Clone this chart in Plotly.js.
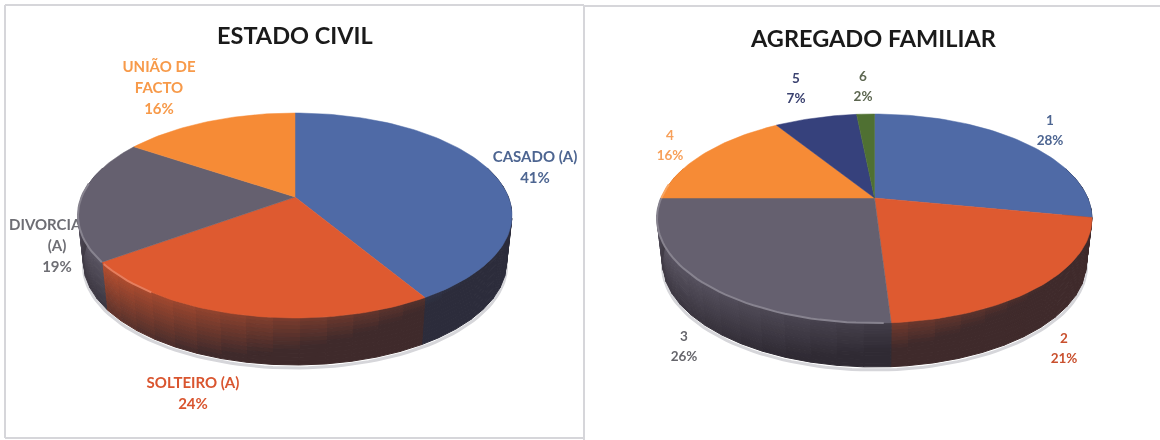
<!DOCTYPE html>
<html>
<head>
<meta charset="utf-8">
<script src="https://cdn.plot.ly/plotly-3.0.1.min.js"></script>
<style>html,body{margin:0;padding:0;background:#fff}#chart{width:1160px;height:440px;filter:blur(0.45px)}</style>
</head>
<body>
<div id="chart"></div>
<script>
// ---- data ----
const civilCategories = ['CASADO (A)', 'SOLTEIRO (A)', 'DIVORCIADO|(A)', 'UNIÃO DE|FACTO'];
const civilValues = [41.4, 23.6, 19.4, 15.6];
const civilColors = ['#4f6aa6', '#de5a30', '#65606f', '#f68b36'];
const civilTextColors = ['#4d6591', '#d9552f', '#6e6e74', '#f79a4a'];

const familyCategories = ['1', '2', '3', '4', '5', '6'];
const familyValues = [28, 21, 26, 16, 7.4, 1.6];
const familyColors = ['#4f6aa6', '#de5a30', '#65606f', '#f68b36', '#36417c', '#4f7032'];
const familyTextColors = ['#4d6591', '#c9502e', '#66666c', '#f7a05a', '#3b4270', '#5c6650'];

// ---- layout of the two panels (page pixels, used as axis units) ----
const civilPie  = {cx: 295, cy: 197, rx: 217, up: 84, down: 121, depth: 47, labelSize: 15, lineGap: 21, rimStart: 215,
  title: 'ESTADO CIVIL', titleX: 295, titleY: 35,
  anchors: [[535,158],[193,384],[57,226],[159,68]]};
const familyPie = {cx: 874.5, cy: 198, rx: 217.5, up: 84, down: 125, depth: 44, labelSize: 13.5, lineGap: 20, rimStart: 178,
  title: 'AGREGADO FAMILIAR', titleX: 873, titleY: 38,
  anchors: [[1050,122],[1064,340],[684,338],[670,137],[796,80],[863,78]]};

const DARK = [38, 34, 42];
const hex = h => [1,3,5].map(i => parseInt(h.substr(i,2),16));
const mix = (a,b,t) => a.map((v,i) => Math.round(v+(b[i]-v)*t));
const rgb = c => 'rgb('+c.join(',')+')';

function projector(p){
  const q = p.down/p.up, k = (q-1)/(q+1), A = p.up*(1+k), B = p.rx*Math.sqrt(1-k*k);
  return deg => {
    const a = deg*Math.PI/180, u = Math.sin(a), v = -Math.cos(a), d = 1-k*v;
    return {x: p.cx + B*u/d, y: p.cy + A*v/d, u, v};
  };
}

function wall(pt, p, t){            // point moved t (0..1) down the side wall
  const s = 1 - 0.025*t;
  return [p.cx + (pt.x-p.cx)*s, pt.y + p.depth*t];
}

function drawPie(p, values, colors, textColors, categories, traces){
  const at = projector(p);
  const total = values.reduce((a,b)=>a+b,0);
  // labels first: the pie covers whatever runs under it
  const lx=[], ly=[], lt=[], lc=[];
  categories.forEach((c,i) => {
    const lines = c.split('|').concat(Math.round(values[i])+'%');
    lines.forEach((line,j) => {
      lx.push(p.anchors[i][0]); ly.push(p.anchors[i][1]+j*p.lineGap); lt.push('<b>'+line+'</b>'); lc.push(textColors[i]);
    });
  });
  traces.push({type:'scatter', mode:'text', x:lx, y:ly, text:lt, textposition:'middle center',
    textfont:{family:'Lato, "Open Sans", sans-serif', size:p.labelSize, color:lc}, cliponaxis:false, hoverinfo:'skip'});

  // faint shadow under the disc
  const sx=[], sy=[];
  for(let d=85; d<=275; d+=2){ const w=wall(at(d),p,1); sx.push(w[0]); sy.push(w[1]+3); }
  traces.push({type:'scatter', mode:'lines', x:sx, y:sy, line:{color:'#d6d6da', width:3}, hoverinfo:'skip'});

  // side wall
  const BANDS = 12, STEP = 6;
  let start = 0;
  const spans = values.map(v => { const s=[start, start+v/total*360]; start=s[1]; return s; });
  spans.forEach((sp,i) => {
    const base = hex(colors[i]);
    const dark = mix(DARK, base, 0.12);
    for(let d=Math.max(sp[0],72); d<Math.min(sp[1],288); d+=STEP){
      const e = Math.min(d+STEP, sp[1], 288);
      const a = at(d), b = at(e);
      for(let n=0;n<BANDS;n++){
        const t0=n/BANDS, t1=(n+1)/BANDS;
        const side = (a.u+1)/2;                // 0 on the left, 1 on the right
        const w = Math.min(0.98, 0.12 + 0.55*(t0+t1)/2 + 0.95*side);
        const col = rgb(mix(base, dark, w));
        const q=[wall(a,p,t0),wall(b,p,t0),wall(b,p,t1),wall(a,p,t1),wall(a,p,t0)];
        traces.push({type:'scatter', mode:'lines', fill:'toself', fillcolor:col,
          x:q.map(o=>o[0]), y:q.map(o=>o[1]), line:{color:col,width:1}, hoverinfo:'skip'});
      }
    }
  });

  // top faces
  spans.forEach((sp,i) => {
    const xs=[p.cx], ys=[p.cy];
    const n=Math.max(2,Math.ceil((sp[1]-sp[0])/1.5));
    for(let j=0;j<=n;j++){ const o=at(sp[0]+(sp[1]-sp[0])*j/n); xs.push(o.x); ys.push(o.y); }
    xs.push(p.cx); ys.push(p.cy);
    traces.push({type:'scatter', mode:'lines', fill:'toself', fillcolor:colors[i],
      x:xs, y:ys, line:{color:colors[i],width:0.5}, hoverinfo:'skip'});
    // lighter rim on the lit front-left edge
    const a0=Math.max(sp[0],p.rimStart), a1=Math.min(sp[1],278);
    if(a1>a0){
      const rx=[], ry=[];
      for(let d=a0;d<=a1;d+=2){ const o=at(d); rx.push(o.x); ry.push(o.y); }
      traces.push({type:'scatter', mode:'lines', x:rx, y:ry,
        line:{color:rgb(mix(hex(colors[i]),[255,255,255],0.22)),width:2}, hoverinfo:'skip'});
    }
  });
}

const traces = [];
drawPie(civilPie, civilValues, civilColors, civilTextColors, civilCategories, traces);
drawPie(familyPie, familyValues, familyColors, familyTextColors, familyCategories, traces);

const titleNote = p => ({x:p.titleX, y:p.titleY, xref:'x', yref:'y', text:'<b>'+p.title+'</b>', showarrow:false,
  font:{family:'Lato, "Open Sans", sans-serif', size:23.5, color:'#1a1a1a'}, xanchor:'center', yanchor:'middle'});
const frame = (x0,y0,x1,y1) => ({type:'line', xref:'x', yref:'y', x0, y0, x1, y1, line:{color:'#d6d6da', width:2}});

Plotly.newPlot('chart', traces, {
  width:1160, height:440, margin:{l:0,r:0,t:0,b:0}, showlegend:false,
  paper_bgcolor:'#ffffff', plot_bgcolor:'#ffffff', hovermode:false,
  xaxis:{range:[0,1160], visible:false, fixedrange:true},
  yaxis:{range:[440,0], visible:false, fixedrange:true},
  annotations:[titleNote(civilPie), titleNote(familyPie)],
  shapes:[frame(5,5,584,5), frame(5,5,5,438), frame(5,438,584,438), frame(584,5,584,440), frame(584,6,1160,6)]
}, {displayModeBar:false, staticPlot:true});
</script>
</body>
</html>
